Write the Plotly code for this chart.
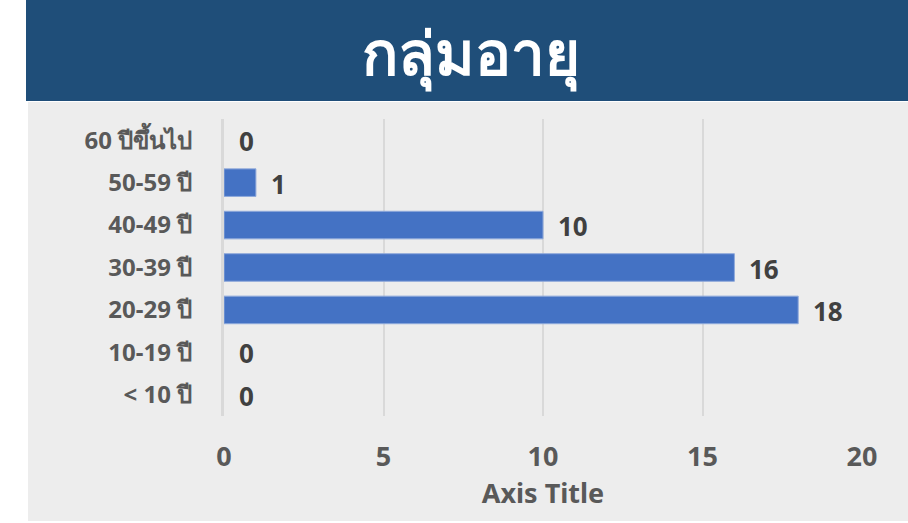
import plotly.graph_objects as go

categories = ["< 10 ปี", "10-19 ปี", "20-29 ปี", "30-39 ปี", "40-49 ปี", "50-59 ปี", "60 ปีขึ้นไป"]
values = [0, 0, 18, 16, 10, 1, 0]
x_ticks = [0, 5, 10, 15, 20]
title_text = "กลุ่มอายุ"
x_title = "Axis Title"

W, H = 908, 523
L, R, T, B = 224, 46, 119, 107
pw, ph = W - L - R, H - T - B
FONT = "Noto Sans, sans-serif"

def px(x):
    return (x - L) / pw

def py(y):
    return 1 - (y - T) / ph

fig = go.Figure()
fig.add_trace(go.Bar(
    y=categories, x=values, orientation="h",
    marker=dict(color="#4472C4", line=dict(color="#8EA9DB", width=[1 if v > 0 else 0 for v in values])),
    width=0.65, hoverinfo="skip",
))

annotations = [
    dict(text=title_text, xref="paper", yref="paper", x=px(471), y=py(52), xanchor="center", yanchor="middle",
         showarrow=False, font=dict(family=FONT, size=60, color="white", weight="bold")),
]
for c, v in zip(categories, values):
    annotations.append(dict(
        x=v, y=c, xref="x", yref="y", text=str(v), showarrow=False,
        xanchor="left", yanchor="middle", xshift=13, yshift=-1,
        font=dict(family=FONT, size=26, color="#404040", weight="bold"),
    ))

fig.update_layout(
    width=W, height=H,
    margin=dict(l=L, r=R, t=T, b=B),
    paper_bgcolor="white", plot_bgcolor="rgba(0,0,0,0)",
    showlegend=False,
    font=dict(family=FONT, color="#595959"),
    shapes=[
        dict(type="rect", xref="paper", yref="paper", x0=px(28), x1=px(908), y0=py(521), y1=py(102),
             fillcolor="#EDEDED", line=dict(width=0), layer="below"),
        dict(type="rect", xref="paper", yref="paper", x0=px(26), x1=px(908), y0=py(101), y1=py(0),
             fillcolor="#1F4E79", line=dict(width=0), layer="below"),
    ],
    annotations=annotations,
)
fig.update_xaxes(
    range=[0, 20], tickvals=x_ticks, ticktext=[str(t) for t in x_ticks],
    showgrid=True, gridcolor="#D9D9D9", gridwidth=2, zeroline=False,
    showline=False, ticks="", ticklen=0, ticklabelstandoff=22,
    tickfont=dict(size=27, color="#595959", weight="bold"),
    title=dict(text=x_title, font=dict(size=27, color="#595959", weight="bold"), standoff=9),
    fixedrange=True,
)
fig.update_yaxes(
    categoryorder="array", categoryarray=categories,
    showgrid=False, zeroline=False, showline=True, linecolor="#D9D9D9", linewidth=3,
    tickfont=dict(size=24, color="#595959", weight="bold"), ticks="", ticklabelstandoff=24,
    fixedrange=True,
)
fig.write_html("out.html", config=dict(displayModeBar=False),
               post_script="document.body.style.margin='0';document.body.style.padding='0';")
